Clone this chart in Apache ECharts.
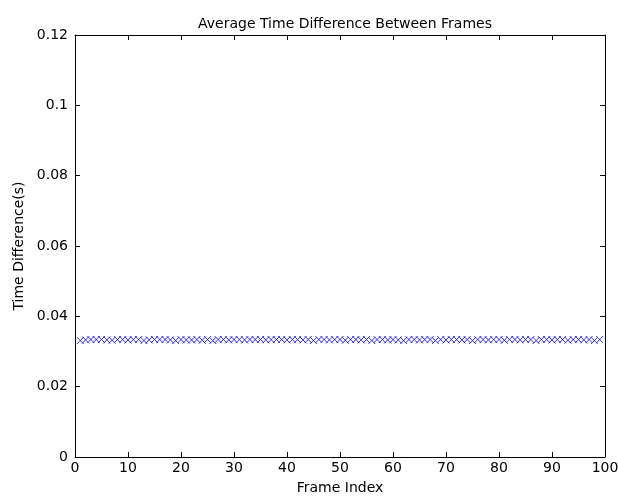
<!DOCTYPE html>
<html><head><meta charset="utf-8">
<script src="https://cdn.jsdelivr.net/npm/echarts@6/dist/echarts.min.js"></script>
<style>html,body{margin:0;padding:0;background:#fff}#c{width:618px;height:500px}</style>
</head><body><div id="c"></div>
<script>
var frames = [];
for (var i = 1; i <= 99; i++) frames.push(i);
var timeDiff = [
0.0331,0.0333,0.0334,0.0334,0.0334,0.0333,0.0332,0.0334,0.0334,0.0333,
0.0334,0.0334,0.0331,0.0333,0.0334,0.0334,0.0334,0.0333,0.0331,0.0334,
0.0333,0.0333,0.0334,0.0332,0.0334,0.0331,0.0334,0.0334,0.0333,0.0334,
0.0334,0.0333,0.0334,0.0334,0.0334,0.0333,0.0334,0.0334,0.0334,0.0333,
0.0334,0.0334,0.0333,0.0334,0.0331,0.0334,0.0334,0.0333,0.0334,0.0334,
0.0332,0.0334,0.0334,0.0333,0.0334,0.0331,0.0334,0.0334,0.0333,0.0334,
0.0333,0.0331,0.0334,0.0334,0.0333,0.0334,0.0334,0.0331,0.0334,0.0333,
0.0334,0.0334,0.0333,0.0334,0.0331,0.0334,0.0334,0.0333,0.0334,0.0334,
0.0332,0.0334,0.0334,0.0333,0.0334,0.0334,0.0331,0.0334,0.0334,0.0333,
0.0334,0.0334,0.0332,0.0334,0.0334,0.0333,0.0334,0.0331,0.0334
];
var xTicks = [0,10,20,30,40,50,60,70,80,90,100];
var yTicks = [0,0.02,0.04,0.06,0.08,0.1,0.12];
var font = 'DejaVu Sans, sans-serif';
var chart = echarts.init(document.getElementById('c'), null, {renderer:'canvas'});
var lineStyle = {color:'#000', width:1};
var tick = {show:true, inside:true, length:5, lineStyle:{color:'#000'}};
chart.setOption({
  animation:false,
  backgroundColor:'#fff',
  title:{text:'Average Time Difference Between Frames', left:340, top:12, textAlign:'center',
    textStyle:{fontFamily:font, fontSize:14, fontWeight:'normal', color:'#000'}},
  grid:{left:75, right:13, top:35, bottom:43, containLabel:false, outerBoundsMode:'none'},
  xAxis:[{type:'value', min:xTicks[0], max:xTicks[xTicks.length-1], interval:10,
    name:'Frame Index', nameLocation:'middle', nameGap:24,
    nameTextStyle:{fontFamily:font, fontSize:14, color:'#000'},
    axisLine:{show:true, onZero:false, lineStyle:lineStyle}, axisTick:tick, splitLine:{show:false},
    axisLabel:{fontFamily:font, fontSize:14, color:'#000', margin:4}},
   {type:'value', position:'top', min:0, max:100, interval:10,
    axisLine:{show:true, onZero:false, lineStyle:lineStyle}, axisTick:tick, splitLine:{show:false}, axisLabel:{show:false}}],
  yAxis:[{type:'value', min:yTicks[0], max:yTicks[yTicks.length-1], interval:0.02,
    name:'Time Difference(s)', nameLocation:'middle', nameGap:48, nameRotate:90,
    nameTextStyle:{fontFamily:font, fontSize:14, color:'#000'},
    axisLine:{show:true, onZero:false, lineStyle:lineStyle}, axisTick:tick, splitLine:{show:false},
    axisLabel:{fontFamily:font, fontSize:14, color:'#000', margin:7,
      formatter:function(v){return String(+v.toFixed(2));}}},
   {type:'value', position:'right', min:0, max:0.12, interval:0.02,
    axisLine:{show:true, onZero:false, lineStyle:lineStyle}, axisTick:tick, splitLine:{show:false}, axisLabel:{show:false}}],
  series:[{type:'scatter', xAxisIndex:0, yAxisIndex:0,
    data: frames.map(function(f,i){return [f, timeDiff[i]];}),
    symbol:'path://M0,0L10,10M10,0L0,10', symbolSize:7,
    itemStyle:{color:'#0000ff', borderColor:'#0000ff', borderWidth:1}}]
});
</script></body></html>
